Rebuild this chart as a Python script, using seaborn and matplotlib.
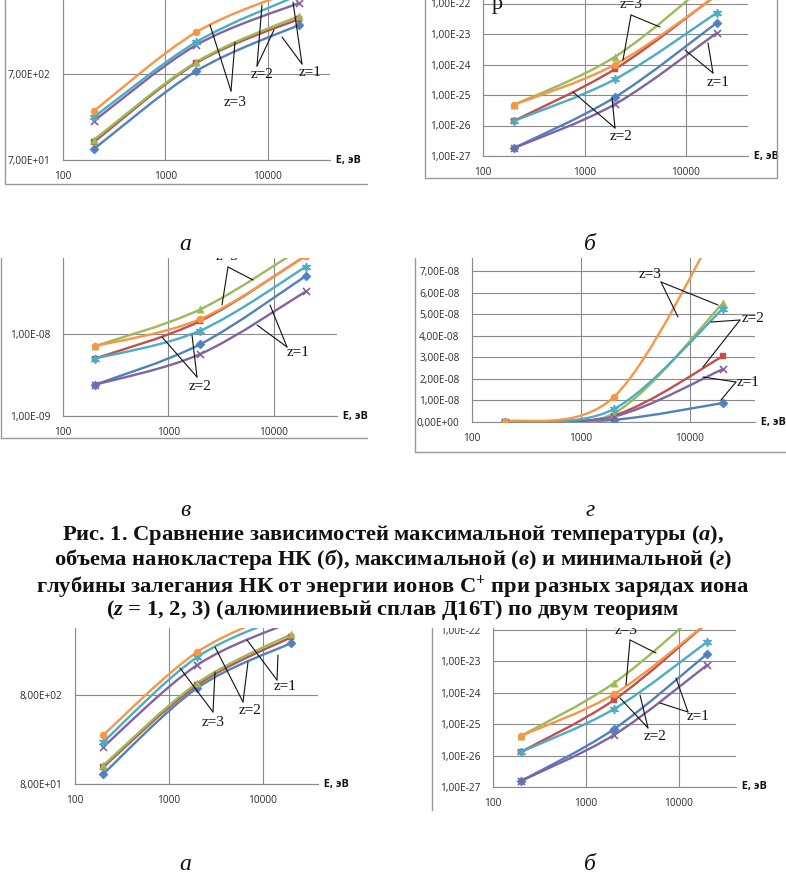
import numpy as np
import matplotlib
matplotlib.use("Agg")
import matplotlib.pyplot as plt
import seaborn as sns
from matplotlib.path import Path
from matplotlib.patches import PathPatch, Rectangle

sns.set_theme(style="white")
plt.rcParams["font.family"] = ["Open Sans", "DejaVu Sans"]
plt.rcParams["mathtext.fontset"] = "custom"
plt.rcParams["mathtext.rm"] = "Liberation Serif:bold"
plt.rcParams["mathtext.it"] = "Liberation Serif:italic:bold"

# ---------------- data ----------------
energy = [200, 2000, 20000]

# top-left (a): max temperature
a1_blue = [94, 758, 2600]
a1_red = [113, 940, 3060]
a1_green = [120, 966, 3310]
a1_purple = [199, 1520, 4680]
a1_cyan = [221, 1650, 5800]
a1_orange = [260, 2150, 6800]

# top-right (b): nanocluster volume
b1_blue = [1.8e-27, 8.5e-26, 2.3e-23]
b1_red = [1.4e-26, 7.1e-25, 1.9e-22]
b1_green = [4.7e-26, 1.8e-24, 8.0e-22]
b1_purple = [1.8e-27, 5.0e-26, 1.07e-23]
b1_cyan = [1.4e-26, 3.3e-25, 4.9e-23]
b1_orange = [4.7e-26, 1.0e-24, 1.8e-22]

# middle-left (v): max depth
v_blue = [2.4e-9, 7.5e-9, 5.1e-8]
v_red = [5.0e-9, 1.44e-8, 9.0e-8]
v_green = [7.1e-9, 2.0e-8, 1.2e-7]
v_purple = [2.4e-9, 5.7e-9, 3.3e-8]
v_cyan = [5.0e-9, 1.1e-8, 6.6e-8]
v_orange = [7.1e-9, 1.52e-8, 9.0e-8]

# middle-right (g): min depth
g_blue = [0.02e-8, 0.10e-8, 0.88e-8]
g_red = [0.02e-8, 0.30e-8, 3.05e-8]
g_green = [0.02e-8, 0.40e-8, 5.50e-8]
g_purple = [0.02e-8, 0.25e-8, 2.45e-8]
g_cyan = [0.02e-8, 0.60e-8, 5.25e-8]
g_orange = [0.02e-8, 1.16e-8, 9.50e-8]

# bottom-left (a): max temperature, 2nd theory
a2_blue = [104, 960, 3070]
a2_red = [124, 1036, 3580]
a2_green = [130, 1090, 3870]
a2_purple = [209, 1740, 5300]
a2_cyan = [238, 2136, 6500]
a2_orange = [285, 2435, 7500]

# bottom-right (b): volume, 2nd theory
b2_blue = [1.55e-27, 6.9e-26, 1.66e-23]
b2_red = [1.3e-26, 5.8e-25, 1.6e-22]
b2_green = [4.2e-26, 2.0e-24, 6.0e-22]
b2_purple = [1.55e-27, 4.5e-26, 7.4e-24]
b2_cyan = [1.3e-26, 3.0e-25, 4.0e-23]
b2_orange = [4.2e-26, 8.9e-25, 1.6e-22]

x_ticks = [100, 1000, 10000]
x_ticklabels = ["100", "1000", "10000"]
a1_yticks = [70, 700]
a1_ylabels = ["7,00E+01", "7,00E+02"]
b_yticks = [1e-27, 1e-26, 1e-25, 1e-24, 1e-23, 1e-22]
b_ylabels = ["1,00E-27", "1,00E-26", "1,00E-25", "1,00E-24", "1,00E-23", "1,00E-22"]
v_yticks = [1e-9, 1e-8]
v_ylabels = ["1,00E-09", "1,00E-08"]
g_yticks = [0, 1e-8, 2e-8, 3e-8, 4e-8, 5e-8, 6e-8, 7e-8]
g_ylabels = ["0,00E+00", "1,00E-08", "2,00E-08", "3,00E-08", "4,00E-08", "5,00E-08", "6,00E-08", "7,00E-08"]
a2_yticks = [80, 800]
a2_ylabels = ["8,00E+01", "8,00E+02"]

colors = ["#4F81BD", "#C0504D", "#9BBB59", "#8064A2", "#4BACC6", "#F79646"]
markers = ["D", "s", "^", "x", (6, 2, 0), "o"]
msizes = [22, 22, 28, 26, 30, 26]

W, H = 786, 882
fig = plt.figure(figsize=(W / 100, H / 100), dpi=100)
fig.patch.set_facecolor("white")
GRID = "#8a8a8a"
TXT = "#2b2b2b"


def px_axes(l, t, r, b):
    return fig.add_axes([l / W, 1 - b / H, (r - l) / W, (b - t) / H])


def smooth(ax, x, y, color, logy=True, lw=1.7, t=1 / 6):
    X = np.log10(np.asarray(x, float))
    Y = np.log10(np.asarray(y, float)) if logy else np.asarray(y, float)
    P = np.column_stack([X, Y])
    n = len(P)
    verts = [P[0]]
    codes = [Path.MOVETO]
    for i in range(n - 1):
        p0 = P[max(i - 1, 0)]
        p1 = P[i]
        p2 = P[i + 1]
        p3 = P[min(i + 2, n - 1)]
        verts += [p1 + (p2 - p0) * t, p2 - (p3 - p1) * t, p2]
        codes += [Path.CURVE4] * 3
    V = np.array(verts)
    V[:, 0] = 10 ** V[:, 0]
    if logy:
        V[:, 1] = 10 ** V[:, 1]
    ax.add_patch(PathPatch(Path(V, codes), fill=False, edgecolor=color, lw=lw,
                           capstyle="round", joinstyle="round", zorder=2))


def panel(box, data, yticks, ylabels, ylim, logy=True, decade_px=100):
    l, t, r, b = box
    ax = px_axes(l, t, r, b)
    ax.set_xscale("log")
    if logy:
        ax.set_yscale("log")
    for ys, c in zip(data, colors):
        smooth(ax, energy, ys, c, logy=logy)
    for ys, c, m, s in zip(data, colors, markers, msizes):
        sns.scatterplot(x=energy, y=ys, ax=ax, color=c, marker=m, s=s,
                        linewidth=1.2 if (m == "x" or isinstance(m, tuple)) else 0.3,
                        edgecolor=c, zorder=3, legend=False, clip_on=True)
    xmax = 10 ** (2 + (r - l) / decade_px)
    ax.set_xlim(100, xmax)
    ax.set_ylim(*ylim)
    ax.set_xticks(x_ticks)
    ax.set_xticklabels(x_ticklabels)
    ax.set_yticks(yticks)
    ax.set_yticklabels(ylabels)
    ax.minorticks_off()
    ax.grid(True, which="major", color=GRID, lw=0.8)
    ax.set_axisbelow(True)
    for sp in ("top", "right"):
        ax.spines[sp].set_visible(False)
    for sp in ("left", "bottom"):
        ax.spines[sp].set_color(GRID)
        ax.spines[sp].set_linewidth(0.8)
    ax.tick_params(axis="x", length=0, pad=8, labelsize=7.3, labelcolor=TXT)
    ax.tick_params(axis="y", length=4, width=0.8, color=GRID, pad=5, labelsize=7.3, labelcolor=TXT)
    ax.set_facecolor("none")
    ax.text(1.0, 0.0, "  E, эВ", transform=ax.transAxes, ha="left", va="center",
            fontsize=7.8, fontweight="bold", color="#111111")
    return ax


# top-left
panel((63, 0, 330, 160),
      [a1_blue, a1_red, a1_green, a1_purple, a1_cyan, a1_orange],
      a1_yticks, a1_ylabels, (70, 70 * 10 ** (160 / 86)), decade_px=102.5)
# top-right
panel((483, 0, 748, 156),
      [b1_blue, b1_red, b1_green, b1_purple, b1_cyan, b1_orange],
      b_yticks, b_ylabels, (1e-27, 1e-27 * 10 ** (156 / 30.5)), decade_px=101.5)
# middle-left
panel((63, 258, 337, 416),
      [v_blue, v_red, v_green, v_purple, v_cyan, v_orange],
      v_yticks, v_ylabels, (1e-9, 1e-9 * 10 ** (158 / 82)), decade_px=105.5)
# middle-right
panel((472, 258, 755, 422),
      [g_blue, g_red, g_green, g_purple, g_cyan, g_orange],
      g_yticks, g_ylabels, (0, (422 - 258) / 21.57 * 1e-8), logy=False, decade_px=109)
# bottom-left
panel((75, 628, 318, 784),
      [a2_blue, a2_red, a2_green, a2_purple, a2_cyan, a2_orange],
      a2_yticks, a2_ylabels, (80, 80 * 10 ** (156 / 89)), decade_px=94)
# bottom-right
panel((493, 628, 736, 787),
      [b2_blue, b2_red, b2_green, b2_purple, b2_cyan, b2_orange],
      b_yticks, b_ylabels, (1e-27, 1e-27 * 10 ** (159 / 31.5)), decade_px=93)

# ---------------- overlay in page pixels ----------------
ov = fig.add_axes([0, 0, 1, 1], zorder=50)
ov.set_xlim(0, W)
ov.set_ylim(H, 0)
ov.axis("off")
ov.patch.set_alpha(0)

annotations = [
    ("z=3", (235, 102), (231, 91), [(210, 25), (235, 42)]),
    ("z=2", (262, 75), (257, 66), [(262, 5), (274, 30)]),
    ("z=1", (310, 73), (302, 64), [(293, 2), (282, 37)]),
    ("z=3", (631, 5), (631, 15), [(623, 60), (660, 27)]),
    ("z=2", (621, 137), (615, 128), [(573, 92), (612, 98)]),
    ("z=1", (718, 82), (713, 73), [(685, 50), (708, 43)]),
    ("z=3", (227, 257), (228, 267), [(222, 305), (253, 280)]),
    ("z=2", (200, 387), (197, 377), [(162, 337), (192, 335)]),
    ("z=1", (298, 353), (287, 347), [(270, 305), (257, 325)]),
    ("z=3", (650, 275), (661, 282), [(678, 317), (718, 305)]),
    ("z=2", (753, 318), (740, 320), [(711, 322), (703, 367)]),
    ("z=1", (748, 383), (736, 382), [(703, 377), (721, 400)]),
    ("z=3", (213, 722), (213, 712), [(180, 668), (215, 672)]),
    ("z=2", (250, 710), (243, 702), [(215, 647), (248, 662)]),
    ("z=1", (285, 687), (277, 680), [(247, 640), (278, 655)]),
    ("z=3", (626, 630), (630, 640), [(626, 685), (656, 653)]),
    ("z=2", (655, 737), (648, 728), [(620, 698), (640, 695)]),
    ("z=1", (698, 717), (688, 712), [(676, 678), (660, 703)]),
]
for lab, (tx, ty), (sx, sy), ends in annotations:
    for ex, ey in ends:
        ov.plot([sx, ex], [sy, ey], color="#111111", lw=0.8, zorder=1)
    ov.text(tx, ty, lab, ha="center", va="center", fontsize=11,
            family="Liberation Serif", color="#111111", zorder=1)

# chart frames
FR = "#9a9a9a"
frames = [
    [(5, 0), (5, 184), (367, 184)],
    [(425, 0), (425, 178), (777, 178), (777, 0)],
    [(1, 258), (1, 438), (367, 438)],
    [(415, 258), (415, 452), (786, 452)],
    [(432, 628), (432, 810)],
]
for fr in frames:
    xs, ys = zip(*fr)
    ov.plot(xs, ys, color=FR, lw=1.0, zorder=1.5)

# masks where the page crop cuts charts
ov.add_patch(Rectangle((0, 186), W, 258 - 186, facecolor="white", edgecolor="none", zorder=2))
ov.add_patch(Rectangle((0, 456), W, 628 - 456, facecolor="white", edgecolor="none", zorder=2))

# stray glyph from the text above
ov.text(497, 9, "р", ha="center", va="baseline", fontsize=16, family="Liberation Serif", color="#111111", zorder=3)

sub = dict(ha="center", va="center", fontsize=17, family="Liberation Serif", style="italic", color="#111111", zorder=3)
ov.text(185, 244, "а", **sub)
ov.text(590, 244, "б", **sub)
ov.text(185, 510, "в", **sub)
ov.text(590, 510, "г", **sub)
ov.text(185, 864, "а", **sub)
ov.text(590, 864, "б", **sub)

cap = dict(ha="center", va="center", fontsize=16.2, family="Liberation Serif", fontweight="bold", color="#111111", zorder=3)
caption_lines = [
    r"Рис. 1. Сравнение зависимостей максимальной температуры ($\mathit{а}$),",
    r"объема нанокластера НК ($\mathit{б}$), максимальной ($\mathit{в}$) и минимальной ($\mathit{г}$)",
    r"глубины залегания НК от энергии ионов С$^{+}$ при разных зарядах иона",
    r"($\mathit{z}$ = 1, 2, 3) (алюминиевый сплав Д16Т) по двум теориям",
]
for yy, line in zip([535, 560, 586, 610], caption_lines):
    ov.text(393, yy, line, **cap)

fig.savefig("out.png", dpi=100, facecolor="white")
